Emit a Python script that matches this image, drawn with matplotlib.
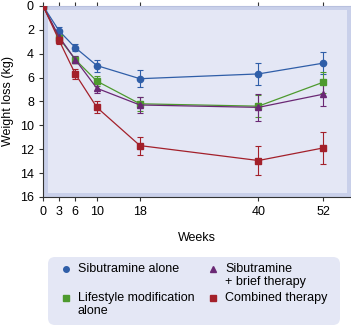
import numpy as np
import matplotlib
matplotlib.use('Agg')
import matplotlib.pyplot as plt
from matplotlib.patches import Rectangle, FancyBboxPatch

# data
weeks = [0, 3, 6, 10, 18, 40, 52]

sib = [0, 2.1, 3.5, 5.0, 6.1, 5.7, 4.8]
sib_err = [0, 0.35, 0.3, 0.5, 0.7, 0.9, 0.9]

life = [0, 2.7, 4.5, 6.3, 8.2, 8.4, 6.4]
life_err = [0, 0.3, 0.3, 0.4, 0.6, 0.9, 0.9]

brief = [0, 2.6, 4.5, 6.9, 8.3, 8.5, 7.4]
brief_err = [0, 0.3, 0.3, 0.4, 0.7, 1.1, 1.0]

comb = [0, 2.9, 5.7, 8.5, 11.7, 12.95, 11.9]
comb_err = [0, 0.3, 0.4, 0.5, 0.75, 1.2, 1.3]

xticks = [0, 3, 6, 10, 18, 40, 52]
yticks = [0, 2, 4, 6, 8, 10, 12, 14, 16]

plt.rcParams['font.family'] = 'Liberation Sans'
fig = plt.figure(figsize=(3.51, 3.25), dpi=100)
ax = fig.add_axes([0.1225, 0.394, 0.8775, 0.588])

ax.set_facecolor('#c9d0ea')
# lighter inner panel
ax.add_patch(Rectangle((0.016, 0.02), 0.97, 0.96, transform=ax.transAxes,
                       facecolor='#e4e7f5', edgecolor='none', zorder=0))

series = [
    (sib, sib_err, '#2f5ea8', 'o', 'Sibutramine alone'),
    (life, life_err, '#4d9a2e', 's', 'Lifestyle modification\nalone'),
    (brief, brief_err, '#6a2874', '^', 'Sibutramine\n+ brief therapy'),
    (comb, comb_err, '#a3202a', 's', 'Combined therapy'),
]
for y, e, c, m, lab in series:
    ax.errorbar(weeks, y, yerr=e, color=c, marker=m, markersize=4.5, lw=0.9,
                elinewidth=0.8, capsize=2, capthick=0.8, zorder=3)

ax.set_xlim(0, 57.2)
ax.set_ylim(16, 0)
ax.set_xticks(xticks)
ax.set_yticks(yticks)
ax.tick_params(labelsize=9, length=3, color='#333333', top=True, right=True)
for s in ['left', 'bottom']:
    ax.spines[s].set_color('#333333')
for s in ['top', 'right']:
    ax.spines[s].set_color('#b8c0de')

ax.set_ylabel('Weight loss (kg)', fontsize=9)
ax.set_xlabel('Weeks', fontsize=9, labelpad=10)

# legend box drawn by hand so rows line up at the top like the original
lg = fig.add_axes([0, 0, 1, 1], zorder=5)
lg.set_xlim(0, 351)
lg.set_ylim(325, 0)
lg.axis('off')
lg.add_patch(FancyBboxPatch((52, 261), 284, 60, boxstyle='round,pad=4,rounding_size=7',
                            facecolor='#e4e7f5', edgecolor='none'))
slots = [(66, 269), (66, 298), (213, 269), (213, 298)]
for (y, e, c, m, lab), (px, py) in zip(series, slots):
    lg.plot([px], [py], ls='none', marker=m, color=c, markersize=4)
    lg.text(px + 12, py - 6.5, lab, fontsize=9, va='top', ha='left',
            linespacing=1.2)

plt.savefig('out.png', dpi=100)
